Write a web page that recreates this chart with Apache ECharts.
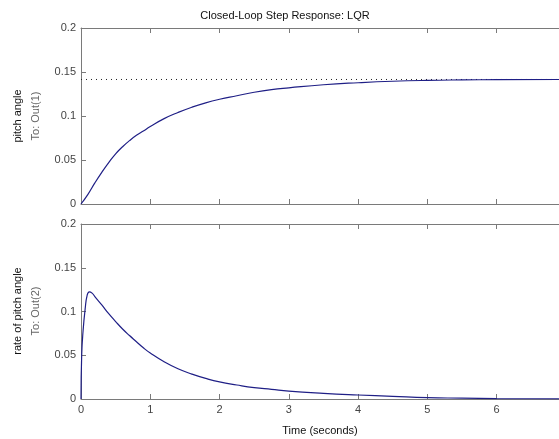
<!DOCTYPE html>
<html>
<head>
<meta charset="utf-8">
<script src="https://cdn.jsdelivr.net/npm/echarts@6/dist/echarts.min.js"></script>
<style>
html,body{margin:0;padding:0;background:#fff;}
#chart{width:559px;height:439px;}
</style>
</head>
<body>
<div id="chart"></div>
<script>
// Top: pitch angle step response
var pitchTime = [0, 0.1, 0.2, 0.3, 0.4, 0.5, 0.6, 0.7, 0.8, 0.9, 1.0, 1.2, 1.4, 1.6, 1.8, 2.0, 2.25, 2.5, 2.75, 3.0, 3.5, 4.0, 4.5, 5.0, 5.5, 6.0, 6.9];
var pitchValue = [0, 0.011, 0.024, 0.036, 0.047, 0.057, 0.065, 0.072, 0.078, 0.083, 0.088, 0.097, 0.104, 0.110, 0.115, 0.119, 0.123, 0.127, 0.130, 0.132, 0.1355, 0.1378, 0.1395, 0.1405, 0.141, 0.1413, 0.1415];
var steadyState = 0.1415;
// Bottom: rate of pitch angle step response
var rateTime = [0, 0.01, 0.03, 0.06, 0.09, 0.12, 0.16, 0.2, 0.3, 0.4, 0.5, 0.6, 0.7, 0.8, 0.9, 1.0, 1.2, 1.4, 1.6, 1.8, 2.0, 2.25, 2.5, 2.75, 3.0, 3.5, 4.0, 4.5, 5.0, 5.5, 6.0, 6.9];
var rateValue = [0, 0.05, 0.078, 0.103, 0.119, 0.1225, 0.121, 0.117, 0.1075, 0.0975, 0.0885, 0.0800, 0.0725, 0.0655, 0.0585, 0.0525, 0.0425, 0.0345, 0.0285, 0.0235, 0.0195, 0.016, 0.013, 0.011, 0.009, 0.0065, 0.0046, 0.003, 0.0015, 0.001, 0.0005, 0.0002];
var xTicks = [0, 1, 2, 3, 4, 5, 6];
var yTicks = [0, 0.05, 0.1, 0.15, 0.2];

var titleText = 'Closed-Loop Step Response: LQR';
var xLabel = 'Time (seconds)';
var topLabels = ['pitch angle', 'To: Out(1)'];
var bottomLabels = ['rate of pitch angle', 'To: Out(2)'];

function pairs(xs, ys){ return xs.map(function(x,i){ return [x, ys[i]]; }); }

var FONT = 'Liberation Sans, Arial, sans-serif';
var AX = '#7a7a7a';
var LBL = '#444';
var LINE = '#1f1f86';
var XMAX = 6.9;

function xAx(grid, pos, labels){
  return {
    type:'value', gridIndex:grid, position:pos, min:0, max:XMAX, interval:1,
    axisLine:{show:true, onZero:false, lineStyle:{color:AX, width:1}},
    axisTick:{show:true, inside:true, length:5, lineStyle:{color:AX}, customValues:xTicks},
    axisLabel:{show:labels, color:LBL, fontSize:11, fontFamily:FONT, margin:5, customValues:xTicks,
      formatter:function(v){ return String(Math.round(v)); }},
    splitLine:{show:false}
  };
}
function yAx(grid){
  return {
    type:'value', gridIndex:grid, min:0, max:0.2, interval:0.05,
    axisLine:{show:true, lineStyle:{color:AX, width:1}},
    axisTick:{show:true, inside:true, length:5, lineStyle:{color:AX}, customValues:yTicks},
    axisLabel:{show:true, color:LBL, fontSize:11, fontFamily:FONT, margin:5, customValues:yTicks,
      formatter:function(v){ return String(+(+v).toFixed(2)); }},
    splitLine:{show:false}
  };
}

var chart = echarts.init(document.getElementById('chart'), null, {renderer:'canvas'});
chart.setOption({
  backgroundColor:'#fff',
  animation:false,
  title:{text:titleText, left:280, top:5, textAlign:'center',
    textStyle:{fontSize:11, fontWeight:'normal', color:'#111', fontFamily:FONT}},
  grid:[
    {left:81, top:28, width:478, height:176, show:false},
    {left:81, top:224, width:478, height:175, show:false}
  ],
  xAxis:[
    xAx(0,'bottom',false),
    xAx(0,'top',false),
    xAx(1,'bottom',true),
    xAx(1,'top',false)
  ],
  yAxis:[ yAx(0), yAx(1) ],
  graphic:[
    {type:'text', x:320, y:431, style:{text:xLabel, fill:'#111', font:'11px '+FONT, textAlign:'center', textVerticalAlign:'middle'}},
    {type:'text', x:18, y:116, rotation:Math.PI/2, style:{text:topLabels[0], fill:'#111', font:'11px '+FONT, textAlign:'center', textVerticalAlign:'middle'}},
    {type:'text', x:36, y:116, rotation:Math.PI/2, style:{text:topLabels[1], fill:'#666', font:'11px '+FONT, textAlign:'center', textVerticalAlign:'middle'}},
    {type:'text', x:18, y:311, rotation:Math.PI/2, style:{text:bottomLabels[0], fill:'#111', font:'11px '+FONT, textAlign:'center', textVerticalAlign:'middle'}},
    {type:'text', x:36, y:311, rotation:Math.PI/2, style:{text:bottomLabels[1], fill:'#666', font:'11px '+FONT, textAlign:'center', textVerticalAlign:'middle'}}
  ],
  series:[
    {type:'line', xAxisIndex:0, yAxisIndex:0, data:[[0, steadyState],[XMAX, steadyState]], symbol:'none',
      lineStyle:{color:'#222', width:1, type:[1,4]}, silent:true},
    {type:'line', xAxisIndex:0, yAxisIndex:0, data:pairs(pitchTime, pitchValue), symbol:'none', smooth:0.5,
      lineStyle:{color:LINE, width:1.2}},
    {type:'line', xAxisIndex:2, yAxisIndex:1, data:pairs(rateTime, rateValue), symbol:'none', smooth:0.5,
      lineStyle:{color:LINE, width:1.2}}
  ]
});
</script>
</body>
</html>
